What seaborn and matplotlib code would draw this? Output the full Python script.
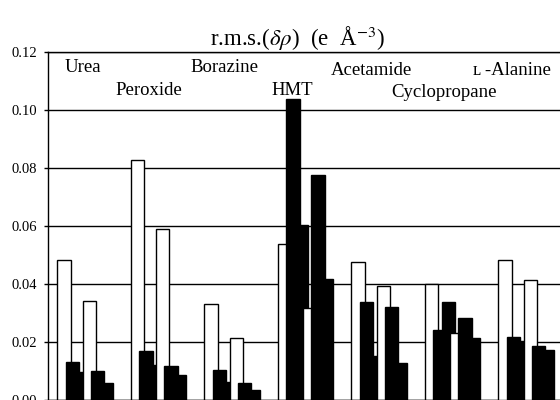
import numpy as np
import pandas as pd
import matplotlib
matplotlib.use('Agg')
import matplotlib.pyplot as plt
import seaborn as sns

# valores (e A^-3)
molecules = ['Urea', 'Peroxide', 'Borazine', 'HMT', 'Acetamide', 'Cyclopropane', 'ʟ\u2009-Alanine']
ref_a  = [0.0484, 0.0828, 0.0331, 0.0537, 0.0476, 0.0401, 0.0483]
dyn_a1 = [0.0130, 0.0168, 0.0103, 0.1037, 0.0339, 0.0242, 0.0217]
dyn_a2 = [0.0095, 0.0121, 0.0063, 0.0603, 0.0152, 0.0339, 0.0204]
ref_b  = [0.0340, 0.0588, 0.0214, 0.0317, 0.0394, 0.0230, 0.0415]
dyn_b1 = [0.0099, 0.0118, 0.0058, 0.0775, 0.0322, 0.0282, 0.0186]
dyn_b2 = [0.0058, 0.0085, 0.0036, 0.0417, 0.0126, 0.0215, 0.0171]
yticks = [0.00, 0.02, 0.04, 0.06, 0.08, 0.10, 0.12]

# layout
GROUP_STEP = 8.75
BAR_W = 1.58
label_dx = [2.2, 1.3, 1.6, 0.9, 1.65, 1.5, 0.85]
label_y = [0.1130, 0.1051, 0.1130, 0.1053, 0.1120, 0.1045, 0.1120]

sns.set_style('ticks')
plt.rcParams['font.family'] = ['Liberation Serif', 'DejaVu Serif']
plt.rcParams['mathtext.fontset'] = 'stix'

series = [('white', ref_a), ('black', dyn_a1), ('black', dyn_a2),
          ('white', ref_b), ('black', dyn_b1), ('black', dyn_b2)]
rows = []
for g, mol in enumerate(molecules):
    for k, (kind, vals) in enumerate(series):
        rows.append({'pos': g * GROUP_STEP + k, 'rms': vals[g], 'kind': kind})
df = pd.DataFrame(rows)

fig = plt.figure(figsize=(5.6, 4), dpi=100)
ax = fig.add_axes([48 / 560, 0.0, 1 - 48 / 560, 348 / 400])

sns.barplot(data=df, x='pos', y='rms', hue='kind',
            palette={'white': 'white', 'black': 'black'},
            native_scale=True, dodge=False, width=BAR_W,
            edgecolor='black', linewidth=1.0, saturation=1,
            errorbar=None, legend=False, ax=ax)

# barras desenhadas da esquerda para a direita, cada uma por cima da anterior
for p in ax.patches:
    p.set_zorder(2 + p.get_x() / 100)

ax.set_xlim(-1.9, 59.05)
ax.set_ylim(0, 0.12)
ax.set_xticks([])
ax.set_yticks(yticks)
ax.set_yticklabels([f'{v:.2f}' for v in yticks])
ax.set_xlabel('')
ax.set_ylabel('')
ax.yaxis.grid(True, color='black', linewidth=1.0)
ax.set_axisbelow(True)
ax.spines['right'].set_visible(False)
for s in ['left', 'top', 'bottom']:
    ax.spines[s].set_color('black')
    ax.spines[s].set_linewidth(1.0)
ax.tick_params(axis='y', direction='out', length=3, width=1, pad=5,
               labelsize=10.5, colors='black')

for g, mol in enumerate(molecules):
    ax.text(g * GROUP_STEP + label_dx[g], label_y[g], mol, ha='center',
            va='baseline', fontsize=13.5, color='black', zorder=5)

fig.text(0.532, 1 - 46 / 400, r'r.m.s.($\delta\rho$)  (e  Å$^{-3}$)',
         ha='center', va='baseline', fontsize=16.5, color='black')

fig.savefig('out.png', dpi=100)
